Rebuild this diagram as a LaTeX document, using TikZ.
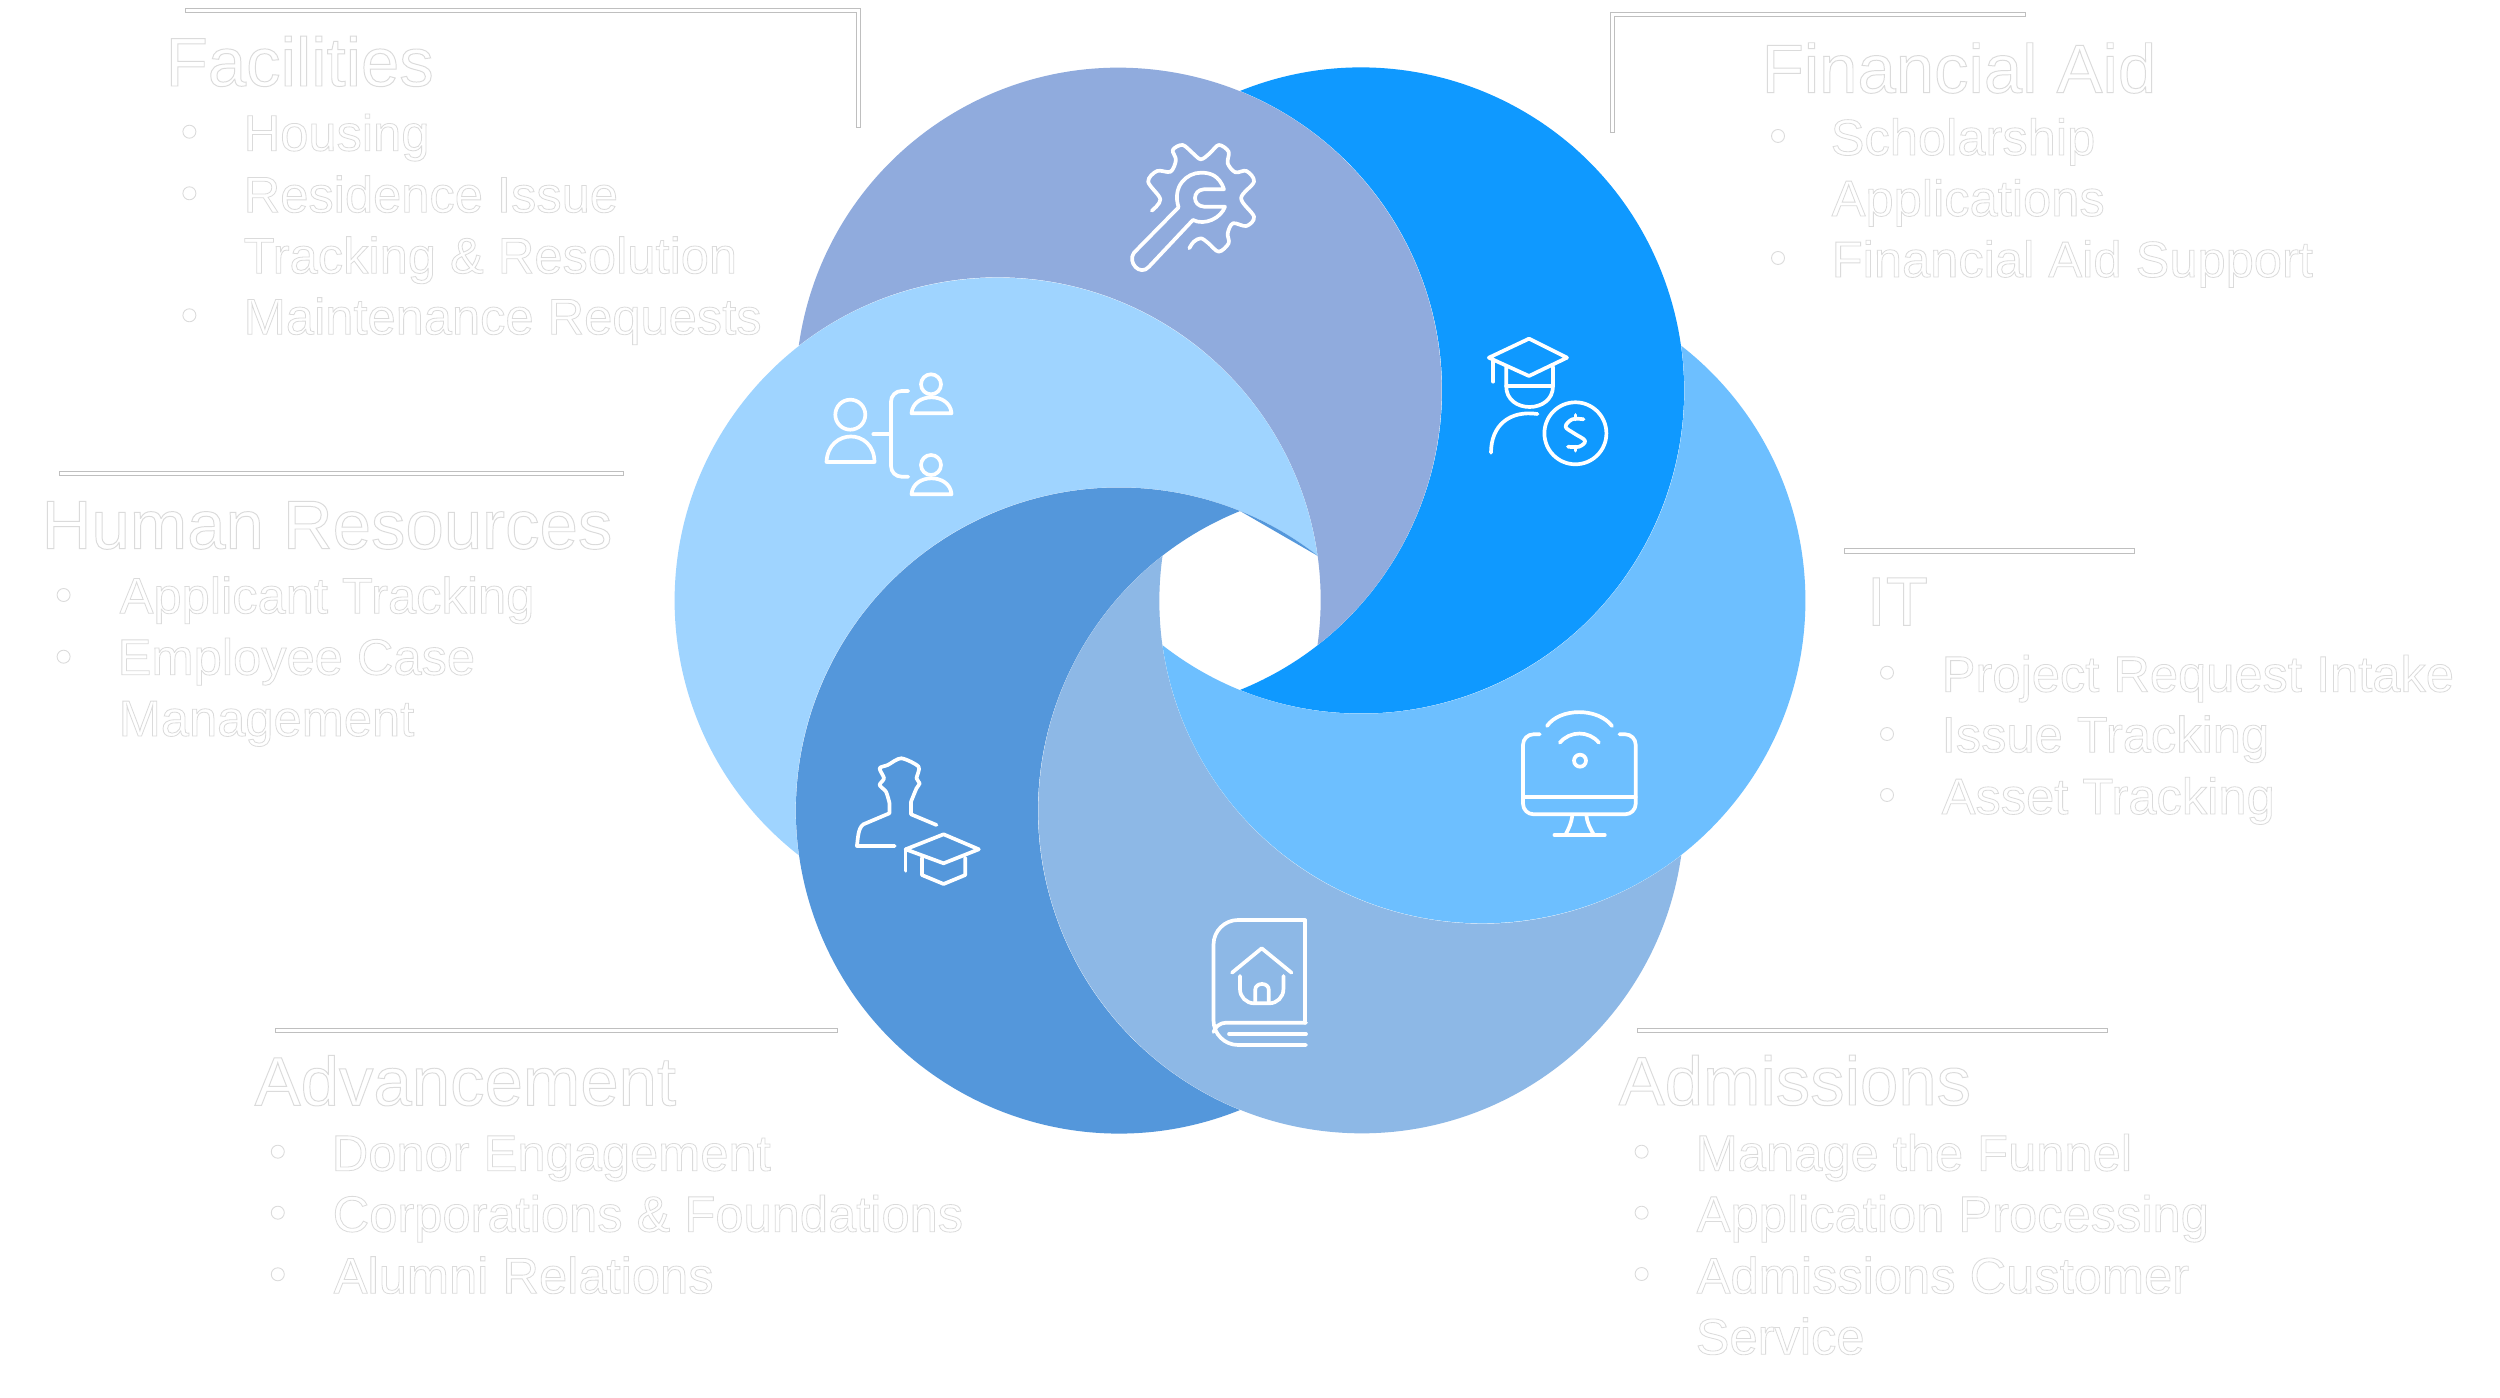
\documentclass[tikz,border=0pt]{standalone}
\usepackage{fontspec}
\newfontfamily\headfont[FakeBold=1.4]{Liberation Sans}
\newfontfamily\itemfont[FakeBold=1.6]{Liberation Sans}

\definecolor{aidblue}{HTML}{0F99FF}
\definecolor{facblue}{HTML}{90ABDD}
\definecolor{hrblue}{HTML}{9FD4FF}
\definecolor{advblue}{HTML}{5497DB}
\definecolor{admblue}{HTML}{8DB8E6}
\definecolor{itblue}{HTML}{6DBFFF}

\tikzset{
    headtext/.style={anchor=base west, inner sep=0pt, font=\headfont\fontsize{19.6}{22}\selectfont,
        execute at begin node={\special{pdf:bcolor [1] [0.86]}}, execute at end node={\special{pdf:ecolor}}},
    itemtext/.style={anchor=base west, inner sep=0pt, font=\itemfont\fontsize{14.4}{17}\selectfont,
        execute at begin node={\special{pdf:bcolor [1] [0.86]}}, execute at end node={\special{pdf:ecolor}}},
    itemdot/.style={draw=black!14, fill=white, line width=.25pt},
    rulebar/.style={draw=black!25, fill=white, line width=.25pt},
    icon/.style={draw=white, line width=1.05pt, line cap=round, line join=round}
}

\begin{document}
\begin{tikzpicture}[x=0.01cm, y=-0.01cm]
    \path[use as bounding box, fill=white] (0,0) rectangle (2500,1398);

    % the six crescents
    \foreach \turn/\shade in {0/aidblue, 60/facblue, 120/hrblue, 180/advblue, 240/admblue, 300/itblue}
        \fill[\shade, shift={(1240,600.5)}, rotate=\turn] (0,-509.5) arc[start angle=-112, end angle=112, radius=323] arc[start angle=68, end angle=-68, radius=323] -- cycle;
    \fill[advblue] (1240,511) arc[start angle=-68, end angle=-52, radius=323] -- cycle;

    % rules
    \draw[rulebar] (185,8) -- (860,8) -- (860,127) -- (856,127) -- (856,12.5) -- (185,12.5) -- cycle;
    \draw[rulebar] (2025,12.5) -- (1610,12.5) -- (1610,132) -- (1614,132) -- (1614,16.5) -- (2025,16.5) -- cycle;
    \draw[rulebar] (59.5,471) rectangle (623,475.5);
    \draw[rulebar] (1844,548.5) rectangle (2134,553);
    \draw[rulebar] (275,1028) rectangle (837,1032);
    \draw[rulebar] (1637.5,1028) rectangle (2107,1032);

    % facilities
    \node[headtext] (factitle) at (165,86) {Facilities};
    \node[itemtext] (facitema) at (243,150.7) {Housing};
    \node[itemtext] (facitemb) at (243,212.3) {Residence Issue};
    \node[itemtext] (facitemc) at (243,273.3) {Tracking \& Resolution};
    \node[itemtext] (facitemd) at (243,334.3) {Maintenance Requests};
    \foreach \y in {131.7,193.3,315.3}
        \draw[itemdot] (189.4,\y) circle[radius=6.5];

    % financial aid
    \node[headtext] (aidtitle) at (1761,92.7) {Financial Aid};
    \node[itemtext] (aiditema) at (1830,155) {Scholarship};
    \node[itemtext] (aiditemb) at (1831,216) {Applications};
    \node[itemtext] (aiditemc) at (1831,277) {Financial Aid Support};
    \foreach \y in {136,258}
        \draw[itemdot] (1778,\y) circle[radius=6.5];

    % human resources
    \node[headtext] (hrtitle) at (41,548.7) {Human Resources};
    \node[itemtext] (hritema) at (119,613.3) {Applicant Tracking};
    \node[itemtext] (hritemb) at (117,674.7) {Employee Case};
    \node[itemtext] (hritemc) at (118,736) {Management};
    \foreach \y in {595,656.7}
        \draw[itemdot] (63.6,\y) circle[radius=6.5];

    % it
    \node[headtext] (ittitle) at (1866,625.3) {IT};
    \node[itemtext] (ititema) at (1941,691.7) {Project Request Intake};
    \node[itemtext] (ititemb) at (1941,752.3) {Issue Tracking};
    \node[itemtext] (ititemc) at (1941,814) {Asset Tracking};
    \foreach \y in {672.7,734,795}
        \draw[itemdot] (1887,\y) circle[radius=6.5];

    % advancement
    \node[headtext] (advtitle) at (254,1105.3) {Advancement};
    \node[itemtext] (advitema) at (331,1170.7) {Donor Engagement};
    \node[itemtext] (advitemb) at (332,1231.7) {Corporations \& Foundations};
    \node[itemtext] (advitemc) at (333,1293.3) {Alumni Relations};
    \foreach \y in {1151.7,1212.7,1274.3}
        \draw[itemdot] (277.8,\y) circle[radius=6.5];

    % admissions
    \node[headtext] (admtitle) at (1618,1105) {Admissions};
    \node[itemtext] (admitema) at (1695,1170.7) {Manage the Funnel};
    \node[itemtext] (admitemb) at (1696,1231.7) {Application Processing};
    \node[itemtext] (admitemc) at (1696,1293.3) {Admissions Customer};
    \node[itemtext] (admitemd) at (1695,1354.3) {Service};
    \foreach \y in {1151.7,1212.7,1274}
        \draw[itemdot] (1641.6,\y) circle[radius=6.5];

    % wrench and gear
    \draw[icon] plot[smooth, tension=.55] coordinates {(1151.8,210.7) (1160.3,199.3) (1148.2,181.7) (1157.1,171) (1170.5,171.7) (1175.9,160) (1172.8,150) (1182.6,145) (1192.9,153.3) (1200.9,159.3) (1209.8,153.3) (1218.8,145) (1228.6,151.7) (1227.7,163.3) (1235.3,172.3) (1246.4,171) (1254,181.7) (1241.1,198.3) (1254,216.7) (1246.4,226) (1233,223.3) (1227.7,233.3) (1228.6,243.3) (1218.8,251.7) (1208.5,243.3) (1200.9,238.3) (1193.8,241.7) (1189.3,248.3)};
    \draw[icon] (1178.6,207.3) -- (1134,252.7) .. controls (1127,262) and (1140,277) .. (1149,266.7) -- (1192.9,220) .. controls (1205,226) and (1221,218) .. (1225,206.7) -- (1204,206.7) .. controls (1192,206) and (1192,190) .. (1204,189.3) -- (1224,189.3) .. controls (1219,175) and (1210,172.7) .. (1201,172.7) .. controls (1186,172.7) and (1172,187) .. (1178.6,207.3);

    % graduate and coin
    \draw[icon] (1488.8,357.7) -- (1529,338.7) -- (1567,357.7) -- (1529,376) -- cycle;
    \draw[icon] (1493.3,360) -- (1493.3,381.7);
    \draw[icon] (1506.2,366.7) -- (1506.2,386) .. controls (1506,414) and (1553,414) .. (1553,386) -- (1553,366.7);
    \draw[icon] (1506.2,386) -- (1553,386);
    \draw[icon] (1491,452.7) .. controls (1491,425) and (1510,410) .. (1537.5,414);
    \draw[icon] (1575.4,433.3) circle[radius=31];
    \draw[icon] plot[smooth, tension=.6] coordinates {(1583.5,419.3) (1572.3,419.3) (1565.6,426.7) (1574,433.3) (1585,440.7) (1579,446.7) (1568,446.7)};
    \draw[icon] (1575.4,415) -- (1575.4,419.3);
    \draw[icon] (1575.4,446.7) -- (1575.4,450.7);

    % org tree
    \draw[icon] (850.3,414.7) circle[radius=15];
    \draw[icon] (826.5,462) .. controls (828,428) and (874,428) .. (874.5,462) -- cycle;
    \draw[icon] (873.3,434.3) -- (891,434.3);
    \draw[icon, rounded corners=3] (908.3,391) -- (891,391) -- (891,476.7) -- (908.3,476.7);
    \draw[icon] (931,384.3) circle[radius=10];
    \draw[icon] (911.5,413.3) .. controls (913,392) and (950,392) .. (951.5,413.3) -- cycle;
    \draw[icon] (931,465) circle[radius=10];
    \draw[icon] (911.5,494.3) .. controls (913,473) and (950,473) .. (951.5,494.3) -- cycle;

    % monitor
    \draw[icon, rounded corners=3] (1539.8,734.3) -- (1523,734.3) -- (1523,814.3) -- (1635.7,814.3) -- (1635.7,734.3) -- (1619.5,734.3);
    \draw[icon] (1523,797.3) -- (1635.7,797.3);
    \draw[icon] (1572.3,815) .. controls (1571.5,823) and (1569,828) .. (1565.3,835);
    \draw[icon] (1586.4,815) .. controls (1587,823) and (1590,828) .. (1594,835);
    \draw[icon] (1554.4,835) -- (1604.8,835);
    \draw[icon] (1580,760.7) circle[radius=6];
    \draw[icon] (1559.8,742.7) .. controls (1570,730.5) and (1589,730.5) .. (1598.9,742.7);
    \draw[icon] (1547,726) .. controls (1560,707.5) and (1598,707.5) .. (1612,726);

    % book and house
    \draw[icon, rounded corners=7] (1305,920) -- (1213.5,920) -- (1213.5,1045) -- (1306,1045);
    \draw[icon] (1305,920) -- (1305,1022.7);
    \draw[icon] (1306,1022.7) -- (1226,1022.7) .. controls (1220,1022.7) and (1215,1027) .. (1213.5,1032);
    \draw[icon] (1229,1034) -- (1306,1034);
    \draw[icon] (1232,972.7) -- (1261.7,948.3) -- (1291.5,972.7);
    \draw[icon, rounded corners=4] (1240,976) -- (1240,1003.3) -- (1283.4,1003.3) -- (1283.4,976);
    \draw[icon] (1255.2,1001.7) -- (1255.2,990) .. controls (1255.2,982) and (1268.8,982) .. (1268.8,990) -- (1268.8,1001.7);

    % alumnus
    \draw[icon] plot[smooth, tension=.45] coordinates {(911,801.7) (916.5,788.3) (919.7,783.3) (916.5,778.3) (918.6,766.7) (901.3,758.3) (887.8,765) (879.6,768.3) (884,778.3) (879.6,785) (886,791.7) (889.4,802.7)};
    \draw[icon] (936.5,825) -- (911,814.3) -- (911,801.7);
    \draw[icon] (889.4,802.7) -- (889.4,813.3) -- (863.4,824.3) .. controls (858,828) and (858,838) .. (856.9,846) -- (894.8,846);
    \draw[icon] (905.6,849.3) -- (943.6,834.3) -- (978.8,849.3) -- (943.6,863.3) -- cycle;
    \draw[icon] (905.6,849.3) -- (905.6,870.7);
    \draw[icon] (921.9,857.7) -- (921.9,875) -- (943.6,884) -- (965.3,875) -- (965.3,857.7);
\end{tikzpicture}
\end{document}
